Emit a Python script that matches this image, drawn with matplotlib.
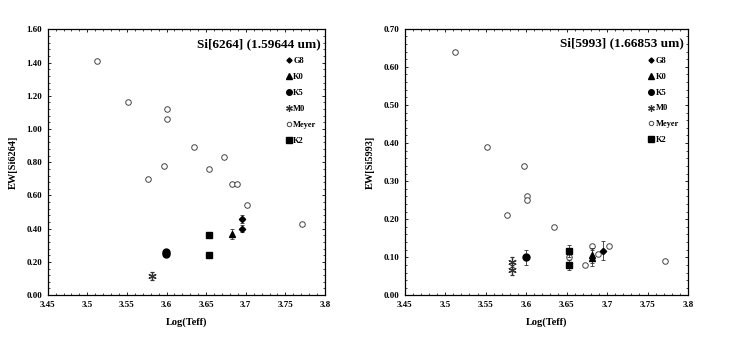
import matplotlib
matplotlib.use('Agg')
from matplotlib import pyplot as plt
from matplotlib.lines import Line2D
from matplotlib.ticker import MultipleLocator, FormatStrFormatter

plt.rcParams['font.family'] = ['Liberation Serif', 'DejaVu Serif']
plt.rcParams['font.weight'] = 'bold'

# ---- Si[6264] panel data ----
meyer_x1 = [3.512, 3.551, 3.600, 3.600, 3.577, 3.597, 3.635, 3.653, 3.673, 3.682, 3.689, 3.702, 3.771]
meyer_y1 = [1.41, 1.16, 1.12, 1.06, 0.70, 0.78, 0.89, 0.76, 0.83, 0.67, 0.67, 0.54, 0.43]
g8_x1 = [3.695, 3.695]
g8_y1 = [0.46, 0.40]
g8_e1 = [0.025, 0.02]
k0_x1 = [3.682]
k0_y1 = [0.365]
k0_e1 = [0.03]
k5_x1 = [3.599, 3.599]
k5_y1 = [0.25, 0.26]
k5_e1 = [0.015, 0.015]
m0_x1 = [3.582]
m0_y1 = [0.115]
m0_e1 = [0.025]
k2_x1 = [3.653, 3.653]
k2_y1 = [0.36, 0.24]
k2_e1 = [0.01, 0.01]

# ---- Si[5993] panel data ----
meyer_x2 = [3.512, 3.552, 3.597, 3.601, 3.601, 3.577, 3.635, 3.653, 3.673, 3.682, 3.689, 3.703, 3.771]
meyer_y2 = [0.64, 0.39, 0.34, 0.26, 0.25, 0.21, 0.18, 0.10, 0.08, 0.13, 0.11, 0.13, 0.09]
g8_x2 = [3.695]
g8_y2 = [0.117]
g8_e2 = [0.025]
k0_x2 = [3.682, 3.682]
k0_y2 = [0.105, 0.098]
k0_e2 = [0.02, 0.02]
k5_x2 = [3.600]
k5_y2 = [0.10]
k5_e2 = [0.02]
m0_x2 = [3.582, 3.582]
m0_y2 = [0.088, 0.066]
m0_e2 = [0.014, 0.013]
k2_x2 = [3.653, 3.653]
k2_y2 = [0.117, 0.080]
k2_e2 = [0.015, 0.013]

labels = ['G8', 'K0', 'K5', 'M0', 'Meyer', 'K2']

fig = plt.figure(figsize=(7.42, 3.38), dpi=100)
ax1 = fig.add_axes([0.0643, 0.127, 0.3737, 0.786])
ax2 = fig.add_axes([0.5454, 0.126, 0.3818, 0.789])

styles = {
    'G8': dict(marker='D', ms=3.2, color='black'),
    'K0': dict(marker='^', ms=5, color='black'),
    'K5': dict(marker='o', ms=5, color='black'),
    'M0': dict(marker=(6, 2, 0), ms=6, color='#333333', mew=0.9),
    'K2': dict(marker='s', ms=5, color='black'),
}
meyer_style = dict(marker='o', ms=4, mfc='white', mec='#444444', mew=0.7)


def draw(ax, mx, my, series, title, ylabel, ymax, ymajor, yminor):
    eb = dict(ls='none', ecolor='#333333', elinewidth=0.6, capsize=1.5, capthick=0.6)
    for name, (x, y, e) in series.items():
        ax.errorbar(x, y, yerr=e, **styles[name], **eb)
    ax.plot(mx, my, ls='none', zorder=1.5, **meyer_style)

    ax.set_xlim(3.45, 3.8)
    ax.set_ylim(0, ymax)
    ax.xaxis.set_major_locator(MultipleLocator(0.05))
    ax.xaxis.set_minor_locator(MultipleLocator(0.01))
    ax.yaxis.set_major_locator(MultipleLocator(ymajor))
    ax.yaxis.set_minor_locator(MultipleLocator(yminor))
    ax.yaxis.set_major_formatter(FormatStrFormatter('%.2f'))
    ax.xaxis.set_major_formatter(plt.FuncFormatter(lambda v, p: ('%.2f' % v).rstrip('0').rstrip('.')))
    ax.tick_params(which='both', direction='in', top=True, right=True, labelsize=6.5, pad=4)
    ax.tick_params(which='major', length=2.5, width=0.6)
    ax.tick_params(which='minor', length=1.5, width=0.5)
    for s in ax.spines.values():
        s.set_linewidth(0.9)
    ax.set_xlabel('Log(Teff)', fontsize=7.5, fontweight='bold', labelpad=6)
    ax.set_ylabel(ylabel, fontsize=7.5, fontweight='bold', labelpad=6)
    ax.text(0.985, 0.945, title, transform=ax.transAxes, ha='right', va='center',
            fontsize=9.5, fontweight='bold')

    handles = []
    for name in labels:
        st = meyer_style if name == 'Meyer' else styles[name]
        handles.append(Line2D([], [], ls='none', **st))
    ax.legend(handles, labels, loc='upper left', bbox_to_anchor=(0.86, 0.895), frameon=False,
              fontsize=6, handlelength=0.6, handletextpad=0.25, labelspacing=0.95, borderpad=0,
              borderaxespad=0, markerscale=0.8)


draw(ax1, meyer_x1, meyer_y1,
     {'G8': (g8_x1, g8_y1, g8_e1), 'K0': (k0_x1, k0_y1, k0_e1), 'K5': (k5_x1, k5_y1, k5_e1),
      'M0': (m0_x1, m0_y1, m0_e1), 'K2': (k2_x1, k2_y1, k2_e1)},
     'Si[6264] (1.59644 um)', 'EW[Si6264]', 1.6, 0.2, 0.04)
draw(ax2, meyer_x2, meyer_y2,
     {'G8': (g8_x2, g8_y2, g8_e2), 'K0': (k0_x2, k0_y2, k0_e2), 'K5': (k5_x2, k5_y2, k5_e2),
      'M0': (m0_x2, m0_y2, m0_e2), 'K2': (k2_x2, k2_y2, k2_e2)},
     'Si[5993] (1.66853 um)', 'EW[Si5993]', 0.7, 0.1, 0.02)

plt.savefig('out.png', dpi=100)
